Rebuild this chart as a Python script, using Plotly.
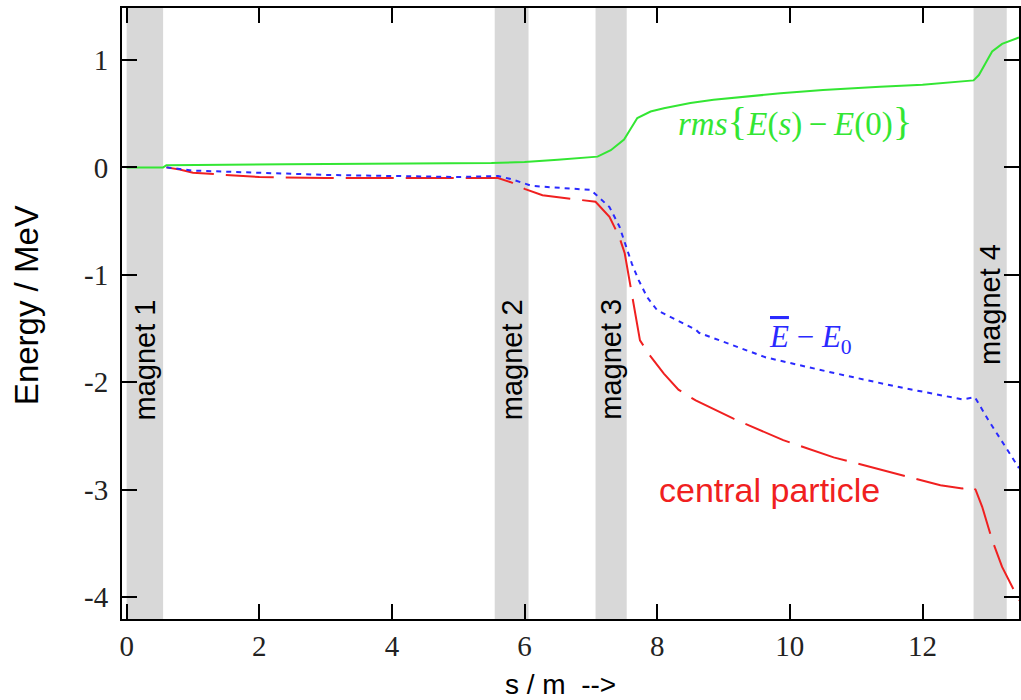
import plotly.graph_objects as go

# Beam line positions s [m] and energy deviations [MeV]
s_rms = [0.0, 0.55, 0.6, 2.4, 5.5, 6.0, 6.5, 7.0, 7.1, 7.3, 7.5, 7.6, 7.7, 7.9,
         8.1, 8.5, 8.85, 9.86, 10.5, 11.36, 12.0, 12.77, 12.85, 12.95, 13.05,
         13.2, 13.455]
e_rms = [0.0, 0.0, 0.02, 0.03, 0.04, 0.05, 0.07, 0.095, 0.1, 0.16, 0.26, 0.36,
         0.46, 0.52, 0.55, 0.6, 0.63, 0.69, 0.72, 0.75, 0.77, 0.81, 0.86, 0.97,
         1.08, 1.15, 1.21]

s_mean = [0.6, 1.0, 2.0, 3.0, 4.0, 5.0, 5.6, 5.8, 6.1, 6.27, 7.0, 7.28, 7.43,
          7.51, 7.62, 7.72, 7.85, 8.0, 8.34, 8.58, 8.63, 9.64, 10.63, 11.6,
          12.6, 12.79, 12.99, 13.2, 13.455]
e_mean = [0.0, -0.03, -0.05, -0.07, -0.08, -0.09, -0.08, -0.11, -0.17, -0.18,
          -0.21, -0.37, -0.55, -0.7, -0.9, -1.05, -1.21, -1.33, -1.44, -1.51,
          -1.54, -1.77, -1.91, -2.04, -2.16, -2.14, -2.35, -2.55, -2.8]

s_central = [0.6, 0.8, 1.0, 1.5, 2.0, 3.0, 4.0, 5.0, 5.6, 5.8, 6.0, 6.27, 6.82,
             7.07, 7.28, 7.43, 7.51, 7.6, 7.66, 7.74, 7.9, 8.1, 8.32, 8.58,
             9.15, 9.9, 10.66, 11.4, 12.27, 12.6, 12.72, 12.8, 12.9, 13.05,
             13.2, 13.455]
e_central = [0.0, -0.02, -0.05, -0.07, -0.09, -0.1, -0.1, -0.1, -0.1, -0.14,
             -0.2, -0.26, -0.3, -0.32, -0.46, -0.65, -0.8, -1.11, -1.33, -1.61,
             -1.76, -1.92, -2.07, -2.17, -2.34, -2.54, -2.7, -2.82, -2.96,
             -2.99, -2.97, -3.0, -3.16, -3.47, -3.72, -4.03]

# Dipole magnets: name, start and end [m]
magnet_names = ["magnet 1", "magnet 2", "magnet 3", "magnet 4"]
magnet_start = [0.0, 5.55, 7.07, 12.77]
magnet_end = [0.55, 6.06, 7.54, 13.27]
magnet_label_y = [-1.79, -1.79, -1.79, -1.28]

x_ticks = [0, 2, 4, 6, 8, 10, 12]
y_ticks = [1, 0, -1, -2, -3, -4]

GREEN = "#33e633"
RED = "#f02020"
BLUE = "#2a2aff"

fig = go.Figure()

fig.add_trace(go.Scatter(x=s_rms, y=e_rms, mode="lines",
                         line=dict(color=GREEN, width=2)))
fig.add_trace(go.Scatter(x=s_central, y=e_central, mode="lines",
                         line=dict(color=RED, width=2, dash="48px,12px")))
fig.add_trace(go.Scatter(x=s_mean, y=e_mean, mode="lines",
                         line=dict(color=BLUE, width=2, dash="5px,5px")))

for name, x0, x1, ly in zip(magnet_names, magnet_start, magnet_end, magnet_label_y):
    fig.add_shape(type="rect", xref="x", yref="paper", x0=x0, x1=x1, y0=0, y1=1,
                  fillcolor="#d8d8d8", line=dict(width=0), layer="below")
    fig.add_annotation(x=(x0 + x1) / 2, y=ly, text=name, textangle=-90,
                       showarrow=False,
                       font=dict(family="Liberation Sans", size=29, color="black"))

fig.add_annotation(x=10.07, y=0.43, showarrow=False,
                   text=("<i>rms</i><span style='font-size:41px'>{</span>"
                         "<i>E</i>(<i>s</i>)\u2009\u2212\u2009<i>E</i>(0)"
                         "<span style='font-size:41px'>}</span>"),
                   font=dict(family="Liberation Serif", size=33, color=GREEN))
fig.add_annotation(x=10.31, y=-1.6, showarrow=False,
                   text=("<span style='text-decoration:overline'><i>E</i></span>"
                         " \u2212 <i>E</i><sub>0</sub>"),
                   font=dict(family="Liberation Serif", size=31, color=BLUE))
fig.add_annotation(x=9.7, y=-3.0, showarrow=False, text="central particle",
                   font=dict(family="Liberation Sans", size=34, color=RED))

# Axis titles
fig.add_annotation(xref="paper", yref="paper", x=-0.1057, y=0.514,
                   xanchor="center", yanchor="middle",
                   text="Energy / MeV", textangle=-90, showarrow=False,
                   font=dict(family="Liberation Sans", size=33, color="black"))
fig.add_annotation(xref="paper", yref="paper", x=0.4894, y=-0.107,
                   xanchor="center", yanchor="middle",
                   text="s / m  -->", showarrow=False,
                   font=dict(family="Liberation Sans", size=28, color="black"))

axis_common = dict(showline=True, linecolor="black", linewidth=2,
                   ticks="inside", ticklen=15, tickwidth=2, tickcolor="black",
                   mirror="ticks", showgrid=False, zeroline=False,
                   tickfont=dict(family="Liberation Serif", size=29, color="#222"))

fig.update_xaxes(range=[-0.07, 13.455], tickvals=x_ticks, **axis_common)
fig.update_yaxes(range=[-4.205, 1.484], tickvals=y_ticks,
                 ticktext=[str(v) for v in y_ticks], ticklabelstandoff=6,
                 **axis_common)

fig.update_layout(width=1021, height=700, showlegend=False,
                  paper_bgcolor="white", plot_bgcolor="white",
                  margin=dict(l=122, r=0, t=8, b=81))

fig.write_html("out.html")
